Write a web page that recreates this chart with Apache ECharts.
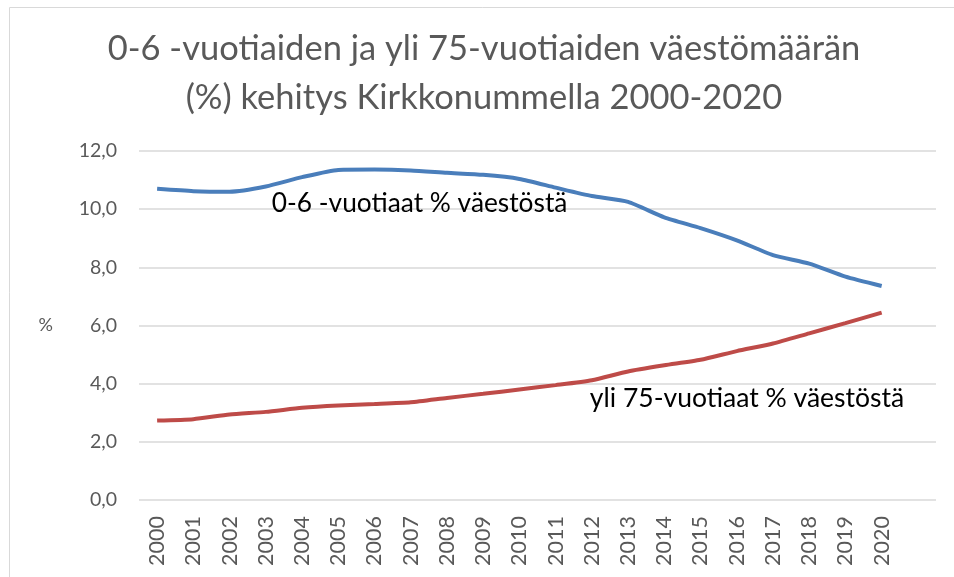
<!DOCTYPE html>
<html>
	<head>
		<meta charset="utf-8">
		<title>Kirkkonummi 2000-2020</title>
		<script type="text/javascript" src="https://cdn.jsdelivr.net/npm/echarts@6/dist/echarts.min.js"></script>
		<style>
			html, body { margin: 0; padding: 0; background: #FFFFFF; }
		</style>
	</head>
	<body>
		<div id="main" style="width: 954px;height:577px;"></div>
		<script type="text/javascript">
			// vuodet ja osuudet (% väestöstä), luettu kuvasta
			var years = ['2000', '2001', '2002', '2003', '2004', '2005', '2006', '2007', '2008', '2009', '2010',
				'2011', '2012', '2013', '2014', '2015', '2016', '2017', '2018', '2019', '2020'];
			var kids = [10.7, 10.62, 10.6, 10.78, 11.1, 11.35, 11.36, 11.33, 11.25, 11.18, 11.04,
				10.74, 10.45, 10.25, 9.72, 9.35, 8.93, 8.42, 8.13, 7.68, 7.36];
			var elderly = [2.73, 2.78, 2.94, 3.03, 3.17, 3.25, 3.3, 3.36, 3.51, 3.65, 3.8,
				3.95, 4.12, 4.42, 4.63, 4.82, 5.12, 5.38, 5.73, 6.08, 6.44];
			var yTicks = [0, 2, 4, 6, 8, 10, 12];
			var kidsName = '0-6 -vuotiaat % väestöstä';
			var elderlyName = 'yli 75-vuotiaat % väestöstä';

			var font = 'Lato, "Open Sans", sans-serif';
			var grey = '#595959';

			// tyhjä luokka lopussa, jotta apuviivat jatkuvat oikealle kuten alkuperäisessä
			var xData = years.concat(['']);

			var option = {
				animation: false,
				textStyle: { fontFamily: font },
				title: {
					text: '0-6 -vuotiaiden ja yli 75-vuotiaiden väestömäärän\n(%) kehitys Kirkkonummella 2000-2020',
					left: 484,
					top: 24,
					padding: 0,
					textAlign: 'center',
					textStyle: {
						fontFamily: font,
						fontSize: 34.5,
						fontWeight: 'normal',
						color: grey,
						lineHeight: 49
					}
				},
				graphic: [{
					type: 'rect',
					left: 7,
					top: 5,
					shape: { width: 1000, height: 700 },
					style: { fill: null, stroke: '#D9D9D9', lineWidth: 1 },
					silent: true,
					z: -1
				}],
				grid: {
					left: 139,
					right: 18,
					top: 151,
					bottom: 77
				},
				xAxis: {
					type: 'category',
					data: xData,
					boundaryGap: true,
					axisLine: { show: false },
					axisTick: { show: false },
					axisLabel: {
						rotate: 90,
						margin: 16,
						interval: 0,
						fontFamily: font,
						fontSize: 21.5,
						color: grey
					}
				},
				yAxis: {
					type: 'value',
					min: yTicks[0],
					max: yTicks[yTicks.length - 1],
					interval: 2,
					name: '%',
					nameLocation: 'middle',
					nameRotate: 0,
					nameGap: 86,
					nameTextStyle: { fontFamily: font, fontSize: 18, color: grey },
					axisLine: { show: false },
					axisTick: { show: false },
					axisLabel: {
						margin: 22,
						fontFamily: font,
						fontSize: 19.5,
						color: grey,
						formatter: function(v) {
							return v.toFixed(1).replace('.', ',');
						}
					},
					splitLine: { lineStyle: { color: '#D9D9D9', width: 1.5 } }
				},
				series: [{
					name: kidsName,
					type: 'line',
					data: kids,
					smooth: 0.2,
					showSymbol: false,
					lineStyle: { color: '#4A7EBB', width: 4 },
					itemStyle: { color: '#4A7EBB' },
					markPoint: {
						symbol: 'circle',
						symbolSize: 0,
						silent: true,
						label: {
							show: true,
							position: 'right',
							distance: 6,
							formatter: kidsName,
							fontFamily: font,
							fontSize: 26.3,
							color: '#000000'
						},
						data: [{ coord: ['2003', 10.2] }]
					}
				}, {
					name: elderlyName,
					type: 'line',
					data: elderly,
					smooth: 0.2,
					showSymbol: false,
					lineStyle: { color: '#BE4B48', width: 4 },
					itemStyle: { color: '#BE4B48' },
					markPoint: {
						symbol: 'circle',
						symbolSize: 0,
						silent: true,
						label: {
							show: true,
							position: 'right',
							distance: -2,
							formatter: elderlyName,
							fontFamily: font,
							fontSize: 26.5,
							color: '#000000'
						},
						data: [{ coord: ['2012', 3.5] }]
					}
				}]
			};

			var myChart = echarts.init(document.getElementById('main'));
			myChart.setOption(option, true);
		</script>
	</body>
</html>
